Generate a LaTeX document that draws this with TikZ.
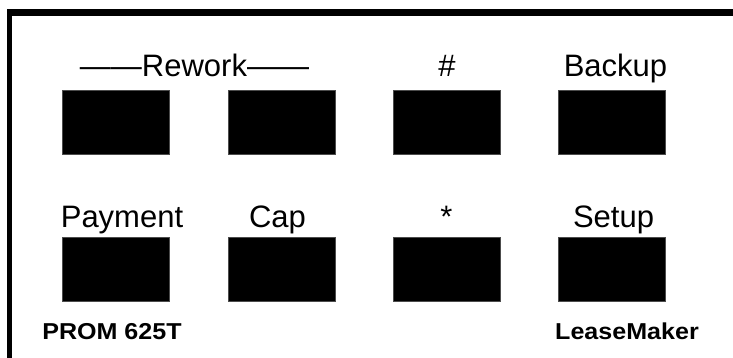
\documentclass[tikz,border=0pt]{standalone}
\usepackage{fontspec}
\setmainfont{Liberation Sans}
\newfontfamily\widebold[FakeStretch=1.09]{Liberation Sans Bold}
\begin{document}
\begin{tikzpicture}[x=1pt,y=-1pt,
  keybox/.style={fill=black,draw=black!70,line width=0.5pt,minimum width=107pt,minimum height=64pt,inner sep=0pt,anchor=north west},
  keylabel/.style={anchor=base,inner sep=0pt,font=\fontsize{31}{36}\selectfont},
  brand/.style={anchor=base,inner sep=0pt,font=\widebold\fontsize{23}{27}\selectfont}]
\useasboundingbox (0,0) rectangle (733,358);
% frame
\fill[black] (7,9) rectangle (733,16);
\fill[black] (7,9) rectangle (11.5,358);
% keys row 1
\node[keybox] (k1) at (62,90) {};
\node[keybox] (k2) at (228,90) {};
\node[keybox] (k3) at (393,90) {};
\node[keybox] (k4) at (558,90) {};
% keys row 2
\node[keybox] (k5) at (62,237) {};
\node[keybox] (k6) at (228,237) {};
\node[keybox] (k7) at (393,237) {};
\node[keybox] (k8) at (558,237) {};
% labels row 1
\node[keylabel] (lrework) at (194.5,77) {——Rework——};
\node[keylabel] (lhash) at (447,77) {\#};
\node[keylabel] (lbackup) at (615.5,77) {Backup};
% labels row 2
\node[keylabel] (lpay) at (122,227) {Payment};
\node[keylabel] (lcap) at (277.5,227) {Cap};
\node[keylabel] (lstar) at (446.5,227) {*};
\node[keylabel] (lsetup) at (613.5,227) {Setup};
% brand texts
\node[brand] (prom) at (112,339) {PROM 625T};
\node[brand] (lease) at (627,339) {LeaseMaker};
\end{tikzpicture}
\end{document}
